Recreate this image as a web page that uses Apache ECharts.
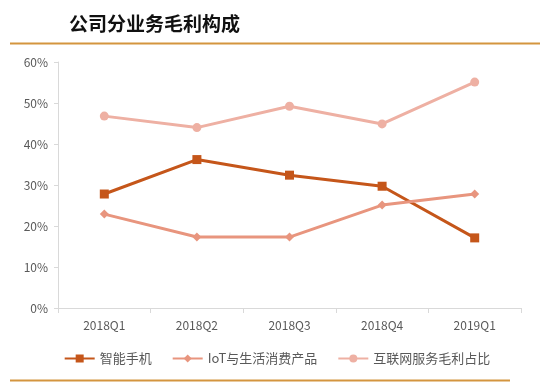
<!DOCTYPE html>
<html><head><meta charset="utf-8">
<script src="https://cdn.jsdelivr.net/npm/echarts@6/dist/echarts.min.js"></script>
<style>html,body{margin:0;padding:0;background:#fff}#c{width:554px;height:388px}</style>
</head><body><div id="c"></div>
<script>
const categories = ['2018Q1','2018Q2','2018Q3','2018Q4','2019Q1'];
const smartphone = [27.8, 36.2, 32.4, 29.7, 17.1];
const iot = [22.9, 17.3, 17.3, 25.1, 27.8];
const internet = [46.8, 44.0, 49.2, 44.9, 55.1];
const yTicks = [0, 10, 20, 30, 40, 50, 60];
const seriesNames = ['智能手机', 'IoT与生活消费产品', '互联网服务毛利占比'];

const chart = echarts.init(document.getElementById('c'));
const font = '"Noto Sans CJK SC", "Liberation Sans", sans-serif';
chart.setOption({
  animation: false,
  textStyle: {fontFamily: font},
  title: {
    text: '公司分业务毛利构成', left: 64, top: 9,
    textStyle: {fontSize: 19, fontWeight: 'bold', color: '#111', fontFamily: font}
  },
  graphic: [
    {type: 'line', shape: {x1: 10, y1: 43.5, x2: 540, y2: 43.5}, style: {stroke: '#D4953F', lineWidth: 2}},
    {type: 'line', shape: {x1: 10, y1: 380.5, x2: 510, y2: 380.5}, style: {stroke: '#D4953F', lineWidth: 2}}
  ],
  grid: {left: 58, right: 33, top: 62, bottom: 80},
  legend: {
    bottom: 18, left: 'center', itemGap: 20, itemWidth: 30, itemHeight: 10,
    textStyle: {color: '#595959', fontSize: 13, fontFamily: font},
    data: seriesNames
  },
  xAxis: {
    type: 'category', data: categories, boundaryGap: true,
    axisLine: {lineStyle: {color: '#D9D9D9'}},
    axisTick: {show: true, lineStyle: {color: '#D9D9D9'}},
    axisLabel: {color: '#595959', fontSize: 12, margin: 11}
  },
  yAxis: {
    type: 'value', min: 0, max: 60, interval: 10,
    axisLine: {show: true, lineStyle: {color: '#D9D9D9'}},
    axisTick: {show: true, lineStyle: {color: '#D9D9D9'}, length: 4},
    splitLine: {show: false},
    axisLabel: {color: '#595959', fontSize: 12, formatter: v => v + '%', margin: 10}
  },
  series: [
    {name: seriesNames[0], type: 'line', data: smartphone, symbol: 'rect', symbolSize: 9,
      lineStyle: {color: '#C5561A', width: 3}, itemStyle: {color: '#C5561A'}},
    {name: seriesNames[1], type: 'line', data: iot, symbol: 'diamond', symbolSize: 9,
      lineStyle: {color: '#E8957E', width: 3}, itemStyle: {color: '#E8957E'}},
    {name: seriesNames[2], type: 'line', data: internet, symbol: 'circle', symbolSize: 9,
      lineStyle: {color: '#EEB0A3', width: 3}, itemStyle: {color: '#EEB0A3'}}
  ]
});
</script></body></html>
